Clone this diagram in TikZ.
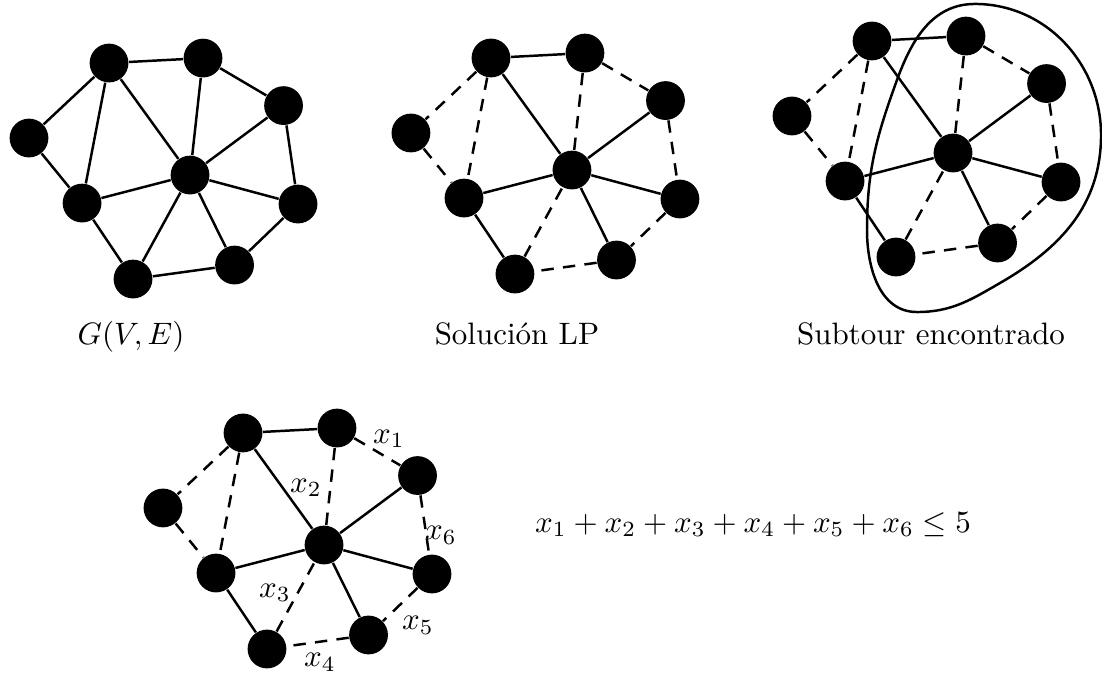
\documentclass[tikz,border=0pt]{standalone}
\usepackage{amsmath}
\usepackage{fontspec}
\usepackage{tikz}

\begin{document}
\begin{tikzpicture}[scale=1.0,
	vertex/.style={circle, fill=black, inner sep=0pt, minimum size=0.44cm},
	edge/.style={thick},
	fracedge/.style={thick, dash pattern=on 4pt off 3pt},
	subtour/.style={thick},
	varlabel/.style={anchor=base, inner sep=0pt}]

	\useasboundingbox (0,0) rectangle (12.502,7.692);

% vertices, same shape four times %{{{2

	\foreach \g/\ex/\ey in {1/2.156/5.706, 2/6.489/5.763, 3/10.812/5.956, 4/3.676/1.509} {
		\begin{scope}[shift={(\ex,\ey)}]
			\foreach \v/\x/\y in {A/-0.919/1.271, B/0.147/1.327, C/1.061/0.788,
				D/-1.827/0.420, E/0/0, F/-1.225/-0.318, G/1.225/-0.329,
				H/0.505/-1.021, I/-0.647/-1.180} {
				\node[vertex] (\v\g) at (\x,\y) {};
			}
		\end{scope}
	}

% graph G(V,E) %{{{2

	\foreach \u/\w in {A/B, A/D, A/F, A/E, B/E, B/C, C/E, C/G,
		D/F, F/E, F/I, E/I, E/H, E/G, G/H, H/I} {
		\draw[edge] (\u1) -- (\w1);
	}

% LP solution edges %{{{2

	\foreach \g in {2,3,4} {
		\foreach \u/\w in {A/B, A/E, C/E, E/F, E/G, E/H, F/I} {
			\draw[edge] (\u\g) -- (\w\g);
		}
		\foreach \u/\w in {A/D, A/F, B/E, B/C, C/G, D/F, G/H, H/I, I/E} {
			\draw[fracedge] (\u\g) -- (\w\g);
		}
	}

% subtour %{{{2

	\coordinate (stTop) at (11.061,7.647);
	\coordinate (stRight) at (12.491,6.160);
	\coordinate (stLowRight) at (11.345,4.481);
	\coordinate (stBottom) at (10.403,4.152);
	\coordinate (stLeft) at (9.836,5.083);
	\coordinate (stUpLeft) at (10.176,6.784);

	\draw[subtour] (stTop) to[out=0, in=90] (stRight)
		to[out=-90, in=30] (stLowRight)
		to[out=210, in=0] (stBottom)
		to[out=180, in=-90] (stLeft)
		to[out=90, in=250] (stUpLeft)
		to[out=70, in=180] cycle;

% captions %{{{2

	\node[anchor=base] (capG) at (1.486,3.778) {$G(V,E)$};
	\node[anchor=base] (capLP) at (5.865,3.778) {Solución LP};
	\node[anchor=base] (capSub) at (10.562,3.778) {Subtour encontrado};

% variables and cut %{{{2

	\node[varlabel] (x1) at (4.413,2.666) {$x_1$};
	\node[varlabel] (x2) at (3.472,2.110) {$x_2$};
	\node[varlabel] (x3) at (3.120,0.919) {$x_3$};
	\node[varlabel] (x4) at (3.630,0.125) {$x_4$};
	\node[varlabel] (x5) at (4.742,0.545) {$x_5$};
	\node[varlabel] (x6) at (5.003,1.566) {$x_6$};

	\node[anchor=base] (cut) at (8.543,1.656) {$x_1 + x_2 + x_3 + x_4 + x_5 + x_6 \leq 5$};

% closing %{{{2

\end{tikzpicture}
\end{document}
